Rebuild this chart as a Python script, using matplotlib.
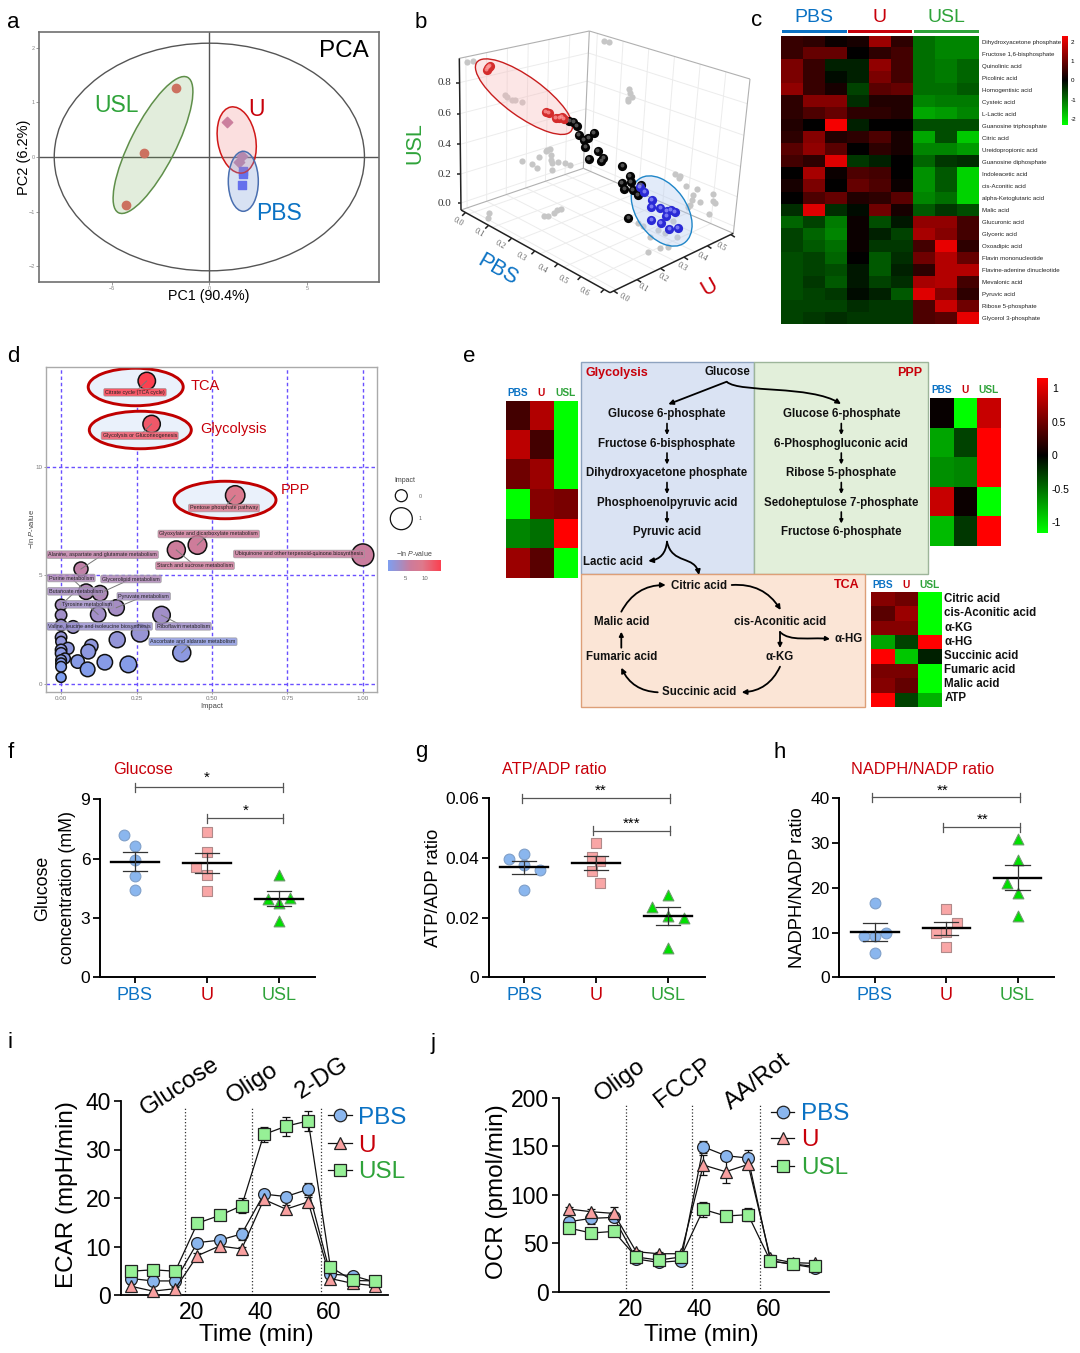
import numpy as np
import matplotlib
matplotlib.use('Agg')
import matplotlib.pyplot as plt
from matplotlib.patches import Ellipse, Rectangle, FancyArrowPatch, Circle
from matplotlib.path import Path
from matplotlib.colors import LinearSegmentedColormap
from matplotlib.transforms import ScaledTranslation

plt.rcParams['font.family'] = ['Liberation Sans', 'DejaVu Sans']
plt.rcParams['mathtext.fontset'] = 'custom'
plt.rcParams['mathtext.it'] = 'Liberation Sans:italic'
plt.rcParams['mathtext.rm'] = 'Liberation Sans'

W, H = 1080, 1353
BLUE, RED, GREEN = '#0b72c4', '#c8000a', '#2fa33a'
groups = ['PBS', 'U', 'USL']
group_colors = [BLUE, RED, GREEN]

# --- a: PCA
pca_usl_x = [-1.69, -3.34, -4.28]
pca_usl_y = [1.27, 0.08, -0.88]
pca_u_x = [0.91, 1.67, 1.54]
pca_u_y = [0.64, 0.02, -0.10]
pca_pbs_x = [1.73, 1.74, 1.67]
pca_pbs_y = [-0.26, -0.31, -0.51]

# --- b: 3D scatter, projected positions
b_red_x = [267, 263, 260, 270, 438, 447, 468, 485, 492, 478]
b_red_y = [200, 204, 210, 197, 337, 340, 353, 352, 358, 355]
b_black_x = [508, 520, 530, 537, 552, 565, 582, 556, 593, 610, 604, 566, 667, 689, 693, 666, 673, 698, 714, 685, 722]
b_black_y = [364, 367, 379, 406, 420, 415, 400, 440, 452, 475, 484, 478, 498, 527, 547, 548, 566, 570, 584, 655, 555]
b_blue_x = [720, 733, 756, 754, 781, 800, 813, 825, 799, 754, 783, 808, 833]
b_blue_y = [562, 577, 599, 622, 625, 632, 631, 635, 648, 660, 670, 687, 683]
b_gray_x = [200, 220, 612, 628, 688, 690, 695, 685, 684, 316, 322, 335, 345, 365, 440, 450, 437, 452, 418, 367, 397, 410,
            453, 455, 475, 495, 510, 457, 267, 263, 432, 443, 462, 472, 483, 825, 840, 838, 857, 890, 880, 877, 870, 865,
            900, 940, 938, 945, 927, 820, 715, 730, 775, 795, 830, 750, 780, 803, 745]
b_gray_y = [186, 183, 124, 126, 268, 278, 290, 297, 302, 286, 292, 301, 301, 305, 450, 447, 452, 465, 470, 482, 492, 505,
            480, 490, 487, 490, 494, 510, 640, 653, 647, 647, 640, 630, 628, 522, 527, 535, 558, 568, 585, 600, 615, 622,
            606, 582, 604, 610, 642, 662, 670, 678, 690, 700, 712, 710, 744, 742, 757]

# --- c: heatmap
c_metabolites = ['Dihydroxyacetone phosphate', 'Fructose 1,6-bisphosphate', 'Quinolinic acid', 'Picolinic acid',
                 'Homogentisic acid', 'Cysteic acid', 'L-Lactic acid', 'Guanosine triphosphate', 'Citric acid',
                 'Ureidopropionic acid', 'Guanosine diphosphate', 'Indoleacetic acid', 'cis-Aconitic acid',
                 'alpha-Ketoglutaric acid', 'Malic acid', 'Glucuronic acid', 'Glyceric acid', 'Oxoadipic acid',
                 'Flavin mononucleotide', 'Flavine-adenine dinucleotide', 'Mevalonic acid', 'Pyruvic acid',
                 'Ribose 5-phosphate', 'Glycerol 3-phosphate']
c_values = [
    [.5, .4, .1, .2, 1.4, .4, -1.0, -1.2, -1.2],
    [.5, .9, .9, 0, .4, .6, -1.0, -1.2, -1.2],
    [1.1, .5, -.3, -.3, 1.3, .6, -1.0, -1.1, -.9],
    [1.1, .5, -.1, -.3, 1.1, .6, -1.0, -1.1, -.9],
    [1.3, .5, .2, -.6, .8, .9, -1.0, -1.0, -.8],
    [.4, 1.2, 1.2, -.4, .3, .3, -1.2, -1.1, -1.1],
    [.4, .7, .9, .4, .4, .3, -1.5, -1.4, -1.2],
    [.3, 0, 2.2, -.3, 0, 0, -.7, -.7, -.7],
    [.4, 1.2, .3, .4, .7, .2, -1.5, -.7, -1.8],
    [.8, 1.3, .8, 0, .4, .2, -1.2, -1.2, -1.4],
    [.6, .4, 2.0, -.5, -.3, 0, -.9, -.5, -.4],
    [0, 1.5, .1, .7, .6, 0, -1.3, -.8, -1.9],
    [.2, 1.1, 0, .9, .7, .1, -1.3, -.8, -1.9],
    [0, .7, .9, .3, .4, .8, -1.2, -1.0, -1.9],
    [-.4, 2.0, -.4, -.1, 1.0, .2, -.8, -.5, -.7],
    [-.9, -.6, -1.1, .1, -.7, -.2, 1.3, 1.3, .6],
    [-.6, -.9, -1.2, .1, -.3, -.6, 1.5, 1.2, .6],
    [-.6, -.8, -1.0, .1, -.5, -.5, .6, 2.1, .4],
    [-.7, -.6, -.9, 0, -.8, -.4, 1.0, 1.6, .9],
    [-.7, -.6, -.7, -.2, -.8, -.3, .4, 1.6, 1.6],
    [-.7, -.5, -.8, -.2, -.6, -.4, 1.5, 1.6, .6],
    [-.7, -.6, -.5, -.1, -.3, -.8, 2.0, 1.2, .4],
    [-.6, -.6, -.6, -.4, -.5, -.5, .7, 1.8, 1.0],
    [-.6, -.5, -.4, -.5, -.5, -.5, .7, .8, 2.1],
]

# --- d: pathway bubbles
d_impact = [.284, .30, .577, .452, .382, 1.0, .066, .083, .129, 0, .123, .183, .333, 0, 0, .04, .262, .186, 0, 0,
            .40, .10, .09, .023, 0, 0, .013, 0, 0, .055, .145, .223, .088, 0, 0]
d_logp = [13.99, 12.0, 8.7, 6.41, 6.18, 5.95, 5.3, 4.25, 4.18, 3.64, 3.2, 3.51, 3.17, 3.17, 2.71, 2.62, 2.33, 2.03, 2.14, 1.94,
          1.43, 1.74, 1.48, 1.63, 1.56, 1.4, 1.17, 1.09, .94, 1.02, .99, .89, .66, .78, .29]
d_radius = [8.7, 8.7, 9.7, 9.3, 9, 11, 7, 7.7, 7.7, 5.7, 7.7, 8, 8.7, 5.7, 5.7, 6.3, 8.7, 8, 5.7, 5.3,
            9, 6.7, 7.3, 6, 5.7, 5.7, 5.3, 5.3, 5.3, 6.7, 7.7, 8.3, 7.3, 5.3, 5]
d_names = ['Citrate cycle (TCA cycle)', 'Glycolysis or Gluconeogenesis', 'Pentose phosphate pathway',
           'Glyoxylate and dicarboxylate metabolism', 'Starch and sucrose metabolism',
           'Ubiquinone and other terpenoid-quinone biosynthesis', 'Alanine, aspartate and glutamate metabolism',
           'Purine metabolism', 'Glycerolipid metabolism', 'Butanoate metabolism', 'Tyrosine metabolism',
           'Pyruvate metabolism', 'Riboflavin metabolism', 'Valine, leucine and isoleucine biosynthesis',
           'Ascorbate and aldarate metabolism']
d_name_bubble = [0, 1, 2, 3, 4, 5, 6, 7, 8, 9, 10, 11, 12, 15, 20]

# --- e: pathway heatmaps
e_gly_values = [[.3, .8, -1.15], [.85, .3, -1.15], [.5, .7, -1.15], [-1.15, .6, .55], [-.6, -.5, 1.15], [.7, .4, -1.15]]
e_ppp_values = [[.03, -1.15, .9], [-.75, -.3, 1.15], [-.65, -.6, 1.15], [.9, .05, -1.15], [-.85, -.25, 1.15]]
e_tca_values = [[.6, .5, -1.15], [.4, .7, -1.15], [.6, .6, -1.15], [-.75, -.3, 1.15],
                [1.15, -.9, -.15], [.55, .55, -1.15], [.6, .45, -1.15], [1.15, -.3, -.8]]
e_tca_names = ['Citric acid', 'cis-Aconitic acid', 'α-KG', 'α-HG', 'Succinic acid', 'Fumaric acid', 'Malic acid', 'ATP']
e_gly_names = ['Glucose 6-phosphate', 'Fructose 6-bisphosphate', 'Dihydroxyacetone phosphate',
               'Phosphoenolpyruvic acid', 'Pyruvic acid']
e_ppp_names = ['Glucose 6-phosphate', '6-Phosphogluconic acid', 'Ribose 5-phosphate',
               'Sedoheptulose 7-phosphate', 'Fructose 6-phosphate']

# --- f, g, h: dot plots (value, x offset)
f_vals = [[7.18, 6.63, 5.92, 5.13, 4.40], [7.37, 6.36, 5.56, 5.18, 4.38], [5.16, 3.98, 4.01, 3.74, 2.85]]
f_offs = [[-.148, 0, 0, 0, 0], [0, 0, -.148, 0, 0], [0, -.15, .15, 0, 0]]
f_mean = [5.85, 5.78, 3.98]
f_err = [.5, .5, .37]
g_vals = [[.0398, .0413, .0377, .0359, .0291], [.0451, .0402, .0389, .0356, .0316], [.0275, .0236, .0206, .0199, .0097]]
g_offs = [[-.217, 0, 0, .217, 0], [0, -.06, .06, -.06, .06], [0, -.22, 0, .22, 0]]
g_mean = [.0369, .0384, .0206]
g_err = [.0022, .0024, .0030]
h_vals = [[16.7, 9.2, 9.2, 10.0, 5.4], [15.2, 12.2, 10.0, 10.1, 6.75], [30.8, 26.3, 21.0, 18.9, 13.7]]
h_offs = [[0, -.148, 0, .148, 0], [0, .148, -.148, 0, 0], [0, 0, -.15, 0, 0]]
h_mean = [10.1, 11.0, 22.3]
h_err = [1.95, 1.45, 2.9]

# --- i, j: Seahorse traces
time_min = [3, 9.5, 16, 22.5, 29, 35.5, 42, 48.5, 55, 61.5, 68, 74.5]
ecar_pbs = [3.4, 2.9, 2.9, 10.8, 11.3, 12.6, 20.8, 20.3, 21.8, 4.3, 4.0, 2.7]
ecar_u = [1.8, .8, 1.3, 8.1, 10.1, 9.5, 19.7, 17.7, 19.2, 3.4, 2.4, 1.9]
ecar_usl = [4.9, 5.2, 4.9, 14.8, 16.4, 18.4, 33.1, 34.8, 35.9, 5.8, 3.0, 2.9]
ecar_pbs_err = [.5, .4, .4, .6, .6, 1.2, .6, 1.0, 1.2, .5, .4, .3]
ecar_u_err = [.5, .3, .4, .5, .5, .5, .5, .9, 1.0, .4, .3, .3]
ecar_usl_err = [.5, .5, .5, .6, .6, 1.5, 1.6, 2.0, 2.0, .6, .4, .3]
ocr_pbs = [72.4, 75.8, 76.8, 34, 30.5, 32.2, 149.5, 140.3, 137.9, 32, 28.5, 24.7]
ocr_u = [85.4, 82.6, 80.9, 41.5, 39.4, 39.4, 130.7, 123.8, 131.3, 34.6, 30.2, 29.5]
ocr_usl = [65.8, 60.7, 62.4, 36, 32.9, 36, 85, 78.2, 79.6, 31.9, 28.8, 26.4]
ocr_pbs_err = [5, 6, 4, 2, 2, 2, 6, 4, 8, 2, 2, 2]
ocr_u_err = [2, 3, 7, 2, 2, 2, 10, 12, 5, 3, 2, 2]
ocr_usl_err = [5, 5, 5, 2, 2, 2, 8, 5, 7, 2, 2, 2]

fig = plt.figure(figsize=(W / 100, H / 100), dpi=100, facecolor='white')


def px_axes(x0, y0, x1, y1, **kw):
    return fig.add_axes([x0 / W, 1 - y1 / H, (x1 - x0) / W, (y1 - y0) / H], **kw)


# overlay in figure pixels, used for annotations
ov = px_axes(0, 0, W, H, zorder=5)
ov.set_xlim(0, W)
ov.set_ylim(H, 0)
ov.axis('off')
ov.patch.set_alpha(0)
# background layer for the pathway boxes
bg = px_axes(0, 0, W, H, zorder=0)
bg.set_xlim(0, W)
bg.set_ylim(H, 0)
bg.axis('off')


def T(x, y, s, fs=10, color='black', **kw):
    kw.setdefault('ha', 'center')
    kw.setdefault('va', 'center')
    return ov.text(x, y, s, fontsize=fs, color=color, **kw)


for lab, lx, ly in [('a', 13, 22), ('b', 421, 22), ('c', 757, 20), ('d', 13, 357), ('e', 469, 357),
                    ('f', 11, 752), ('g', 421, 752), ('h', 780, 752), ('i', 10, 1043), ('j', 433, 1043)]:
    T(lx, ly, lab, fs=16)

# ---------- a
ax = px_axes(39, 32, 379.5, 282, zorder=1)
ax.set_xlim(-8.72, 8.71)
ax.set_ylim(-2.29, 2.29)
ax.axhline(0, color='#555555', lw=1)
ax.axvline(0, color='#555555', lw=1)
ax.add_patch(Ellipse((0, 0), 15.88, 4.17, fill=False, ec='#555555', lw=1))
ax.scatter(pca_usl_x, pca_usl_y, s=36, color='#e46464', zorder=3)
ax.scatter(pca_u_x, pca_u_y, s=28, marker='D', color='#bf7fa8', zorder=3)
ax.scatter(pca_pbs_x, pca_pbs_y, s=36, marker='s', color='#5a5cf5', zorder=3)
ax.set_xticks([-5, 0, 5])
ax.set_yticks([-2, -1, 0, 1, 2])
ax.tick_params(labelsize=4, colors='#888888', length=2, width=.6, pad=1)
for s in ax.spines.values():
    s.set_color('#707070')
    s.set_linewidth(1.2)
ov.add_patch(Ellipse((153, 145), 152, 45, angle=-63, fc='#70a850', ec='#5f8f4a', alpha=.2, lw=0))
ov.add_patch(Ellipse((153, 145), 152, 45, angle=-63, fill=False, ec='#5f8f4a', lw=1.1))
ov.add_patch(Ellipse((236.7, 140), 67, 38, angle=80, fc='#f08080', alpha=.25, lw=0))
ov.add_patch(Ellipse((236.7, 140), 67, 38, angle=80, fill=False, ec='#d01818', lw=1.1))
ov.add_patch(Ellipse((243.3, 181.3), 30, 60, fc='#7f9fd8', alpha=.3, lw=0))
ov.add_patch(Ellipse((243.3, 181.3), 30, 60, fill=False, ec='#4a6fb0', lw=1.1))
T(344, 51, 'PCA', fs=17.5)
T(116, 105, 'USL', fs=16.5, color=GREEN)
T(257, 109, 'U', fs=16.5, color=RED)
T(279, 214, 'PBS', fs=16.5, color=BLUE)
T(209, 296, 'PC1 (90.4%)', fs=10.3)
T(24, 157, 'PC2 (6.2%)', fs=10.5, rotation=90)

# ---------- b
ax = px_axes(400, 0, 755, 330, zorder=1)
ax.set_xlim(0, 1065)
ax.set_ylim(990, 0)
ax.axis('off')
L, F, R_, B = np.array([183, 630.]), np.array([630, 878.]), np.array([1000, 700.]), np.array([550, 505.])
LT, BT, RT = np.array([178, 175.]), np.array([568, 93.]), np.array([1050, 237.])


def lerp(a, b, t):
    return a + (b - a) * t


def seg(a, b, **kw):
    ax.plot([a[0], b[0]], [a[1], b[1]], solid_capstyle='butt', **kw)


grid = dict(color='#ececec', lw=.7, zorder=1)
for t in [.05, .21, .37, .53, .69, .85]:
    seg(lerp(L, F, t), lerp(B, R_, t), **grid)
for t in [.05, .21, .37, .53, .69, .85]:
    seg(lerp(L, B, t), lerp(F, R_, t), **grid)
    seg(lerp(L, B, t), lerp(LT, BT, t), **grid)
    seg(lerp(B, R_, t), lerp(BT, RT, t), **grid)
for t in [.046, .237, .433, .635, .84]:
    seg(lerp(L, LT, t), lerp(B, BT, t), **grid)
    seg(lerp(B, BT, t), lerp(R_, RT, t), **grid)
edge = dict(color='#b0b0b0', lw=.8, zorder=1.5)
seg(LT, BT, **edge)
seg(BT, RT, **edge)
seg(B, BT, **edge)
seg(RT, R_, **edge)
seg(L, B, **edge)
seg(B, R_, **edge)
dark = dict(color='#222222', lw=1.1, zorder=2)
seg(L, LT, **dark)
seg(L, F, **dark)
seg(F, R_, **dark)
for t in [.046, .237, .433, .635, .84]:
    p = lerp(L, LT, t)
    seg(p, p + np.array([-10, 0]), **dark)
for i in range(7):
    p = lerp(L, F, .03 + i * .155)
    seg(p, p + np.array([-10, 10]), **dark)
    q = lerp(np.array([175, 665.]), np.array([553, 876.]), i / 6)
    ax.text(q[0], q[1], f'0.{i}', fontsize=6, family='Liberation Serif', color='#666666', rotation=-30, ha='center', va='center')
for i in range(6):
    p = lerp(F, R_, .03 + i * .19)
    seg(p, p + np.array([12, 8]), **dark)
    q = lerp(np.array([672, 895.]), np.array([965, 740.]), i / 5)
    ax.text(q[0], q[1], f'0.{i}', fontsize=6, family='Liberation Serif', color='#666666', rotation=-30, ha='center', va='center')
for z, yy in zip(['0.0', '0.2', '0.4', '0.6', '0.8'], [612, 524, 433, 342, 248]):
    ax.text(133, yy, z, fontsize=8, family='Liberation Serif', color='#333333', ha='center', va='center')
ax.scatter(b_gray_x, b_gray_y, s=20, color='#c6c6c6', lw=0, zorder=2.5)
ax.add_patch(Ellipse((372, 290), 350, 118, angle=36, fc='#f7b8b8', alpha=.35, lw=0, zorder=3))
ax.add_patch(Ellipse((372, 290), 350, 118, angle=36, fill=False, ec='#c81e1e', lw=1, zorder=3))
ax.add_patch(Ellipse((785, 633), 235, 150, angle=55, fc='#b8cdf0', alpha=.4, lw=0, zorder=3))
ax.add_patch(Ellipse((785, 633), 235, 150, angle=55, fill=False, ec='#1f86c8', lw=1, zorder=3))
for xs, ys, base, shine in [(b_black_x, b_black_y, '#050505', '#707070'), (b_red_x, b_red_y, '#d42c2c', '#ffa0a0'),
                            (b_blue_x, b_blue_y, '#2a2ad6', '#9a9aff')]:
    ax.scatter(xs, ys, s=44, color=base, lw=0, zorder=4)
    ax.scatter(np.array(xs) - 2, np.array(ys) - 3, s=8, color=shine, alpha=.7, lw=0, zorder=4.1)
T(415, 143, 'USL', fs=15.5, color=GREEN, rotation=90)
T(498, 270, 'PBS', fs=15.5, color=BLUE, rotation=-30)
T(709, 287, 'U', fs=15.5, color=RED, rotation=30)

# ---------- c
gbr = LinearSegmentedColormap.from_list('gbr', ['#00ff00', '#000000', '#ff0000'])
ax = px_axes(781, 35.7, 979, 324.3, zorder=1)
ax.imshow(np.array(c_values), cmap=gbr, vmin=-2.3, vmax=2.3, aspect='auto', interpolation='nearest')
ax.set_xticks([])
ax.yaxis.tick_right()
ax.set_yticks(range(len(c_metabolites)), c_metabolites, fontsize=4.4, color='#222222')
ax.tick_params(length=0, pad=2)
for s in ax.spines.values():
    s.set_visible(False)
for x0, x1, col, lab in [(781.5, 846.5, BLUE, 'PBS'), (847.5, 912, RED, 'U'), (913.5, 979, GREEN, 'USL')]:
    ov.add_patch(Rectangle((x0, 29.5), x1 - x0, 3, color=col, lw=0))
    T((x0 + x1) / 2, 17, lab, fs=14, color=col)
cb = px_axes(1062.3, 35.7, 1068.3, 125, zorder=1)
cb.imshow(np.linspace(2.3, -2.3, 128)[:, None], cmap=gbr, vmin=-2.3, vmax=2.3, aspect='auto', extent=[0, 1, -2.3, 2.3])
cb.set_xticks([])
cb.yaxis.tick_right()
cb.set_yticks([2, 1, 0, -1, -2], ['2', '1', '0', '-1', '-2'], fontsize=4.5)
cb.tick_params(length=0, pad=1.5)
for s in cb.spines.values():
    s.set_visible(False)

# ---------- d
bubble_cmap = LinearSegmentedColormap.from_list('bub', [(0, '#7f9ff0'), (.25, '#a88cc0'), (.42, '#cc7c9c'),
                                                        (.65, '#de7a8c'), (1, '#fb4050')])
ax = px_axes(46, 366.7, 377.3, 692.3, zorder=1)
ax.set_xlim(-.05, 1.048)
ax.set_ylim(-.4, 14.65)
ax.set_xticks([0, .25, .5, .75, 1], ['0.00', '0.25', '0.50', '0.75', '1.00'])
ax.set_yticks([0, 5, 10])
ax.grid(True, color='#6a50ff', ls='--', lw=1, dashes=(2.5, 2))
ax.set_axisbelow(True)
ax.tick_params(labelsize=4.5, colors='#777777', length=1.5, width=.5, pad=1)
for s in ax.spines.values():
    s.set_color('#aaaaaa')
    s.set_linewidth(1)
pts_per_px = .72
sizes = (2 * np.array(d_radius) * pts_per_px) ** 2
# highlight ellipses sit under the bubbles, on the pixel coordinates of the overlay
for cx, cy, w in [(135.7, 387, 95), (140.3, 430, 102), (225, 500, 102)]:
    ax.add_patch(Ellipse((cx, cy), w, 37.5, fc='#eaf1fb', lw=0, zorder=2, transform=ov.transData))
    ax.add_patch(Ellipse((cx, cy), w, 37.5, fill=False, ec='#c00000', lw=2.1, zorder=2.5, transform=ov.transData))
ax.scatter(d_impact, d_logp, s=sizes, c=d_logp, cmap=bubble_cmap, vmin=.3, vmax=14, ec='#111111', lw=1.1, zorder=3)
# labels, placed as in the picture (figure pixels)
d_label_x = [135, 139.7, 224, 208.7, 195, 299, 102.7, 71.3, 131, 75.7, 87, 143.7, 183.3, 99.7, 193]
d_label_y = [392.3, 435.7, 508, 534, 565.7, 554, 554.7, 578, 579, 591.3, 604.3, 596.3, 626.3, 626.3, 641.7]
for name, lx, ly, k in zip(d_names, d_label_x, d_label_y, d_name_bubble):
    col = bubble_cmap((d_logp[k] - .3) / 13.7)
    bx = 61 + d_impact[k] * 301.7
    by = 683.7 - d_logp[k] * 21.64
    ov.plot([lx, bx], [ly, by], color='#777777', lw=.7, zorder=3)
    T(lx, ly, name, fs=3.9, color='#222222', zorder=4,
      bbox=dict(boxstyle='round,pad=0.25', fc=col, ec='#999999', lw=.5, alpha=.85))
T(205, 386.5, 'TCA', fs=10.5, color=RED)
T(233.5, 429, 'Glycolysis', fs=10.5, color=RED)
T(295.5, 490.5, 'PPP', fs=10.5, color=RED)
T(211.7, 706, 'Impact', fs=5.5, color='#444444')
T(31, 529, r'$-$ln $\mathit{P}$-value', fs=5.5, color='#444444', rotation=90)
T(404.7, 481, 'Impact', fs=5, color='#444444')
ov.add_patch(Circle((401.3, 495.7), 6, fill=False, ec='#111111', lw=.9))
ov.add_patch(Circle((401.3, 518.7), 11, fill=False, ec='#111111', lw=.9))
T(420, 496, '0', fs=4, color='#666666')
T(420, 519, '1', fs=4, color='#666666')
T(414, 553, r'$-$ln $\mathit{P}$-value', fs=5, color='#444444')
cb = px_axes(388, 560, 440, 571.5, zorder=1)
cb.imshow(np.linspace(.3, 14, 128)[None, :], cmap=bubble_cmap, aspect='auto', extent=[.5, 13.8, 0, 1])
cb.set_yticks([])
cb.set_xticks([5, 10])
cb.tick_params(labelsize=4.3, colors='#666666', length=0, pad=3)
for s in cb.spines.values():
    s.set_visible(False)

# ---------- e
bg.add_patch(Rectangle((581, 362.3), 173, 211.7, fc='#dae3f3', ec='#8ea3bf', lw=1))
bg.add_patch(Rectangle((754, 362.3), 173.7, 211.7, fc='#e2efda', ec='#9db59a', lw=1))
bg.add_patch(Rectangle((581, 574), 284, 132.7, fc='#fbe5d6', ec='#dd9f78', lw=1))
E = dict(fs=8.3, fontweight='bold', color='#111111')
T(617, 372.7, 'Glycolysis', fs=9, color=RED, fontweight='bold')
T(909.7, 372.7, 'PPP', fs=9, color=RED, fontweight='bold')
T(846.7, 585, 'TCA', fs=9, color=RED, fontweight='bold')
T(727.3, 371.7, 'Glucose', **E)
for name, yy in zip(e_gly_names, [414, 443.7, 473.3, 502.7, 532]):
    T(667, yy, name, **E)
for name, yy in zip(e_ppp_names, [414, 443.7, 473.3, 502.7, 532]):
    T(841.3, yy, name, **E)
T(613, 561.7, 'Lactic acid', **E)
T(699, 586, 'Citric acid', **E)
T(621.3, 621.7, 'Malic acid', **E)
T(780, 621.7, 'cis-Aconitic acid', **E)
T(621.3, 657, 'Fumaric acid', **E)
T(779.7, 657, 'α-KG', **E)
T(848.7, 639.3, 'α-HG', **E)
T(699, 692.3, 'Succinic acid', **E)


def arrow(a, b, rad=0.0, ms=7, lw=1.3):
    ov.add_patch(FancyArrowPatch(a, b, arrowstyle='-|>', mutation_scale=ms, lw=lw, color='black', shrinkA=0, shrinkB=0,
                                 connectionstyle=f'arc3,rad={rad}'))


def curve(p0, c1, c2, p3, ms=7, lw=1.3):
    ov.add_patch(FancyArrowPatch(path=Path([p0, c1, c2, p3], [Path.MOVETO, Path.CURVE4, Path.CURVE4, Path.CURVE4]),
                                 arrowstyle='-|>', mutation_scale=ms, lw=lw, color='black', shrinkA=0, shrinkB=0))


for xx in (667, 841.3):
    for yy in (423.5, 453, 482.5, 512):
        arrow((xx, yy), (xx, yy + 11.5), ms=5, lw=1.2)
arrow((726.7, 381.7), (668.3, 404.3))
curve((727, 382), (740, 393), (810, 385), (841, 404))
arrow((667, 541.7), (648.3, 561), rad=-.4)
curve((667, 541.7), (672, 565), (695, 555), (699, 575))
arrow((621.3, 611.7), (665.7, 585), rad=-.3)
arrow((731.7, 585), (780.7, 610), rad=-.3)
arrow((780, 632), (780, 648), ms=6)
curve((780, 632), (790, 642), (810, 637), (830, 639), ms=6)
arrow((780, 666.7), (741.7, 692.3), rad=-.3)
arrow((657.7, 692.3), (621.3, 667.7), rad=-.3)
arrow((621.3, 647.7), (621.3, 631.7), ms=6)


def mini_heat(x0, y0, x1, y1, vals, head_y, head_fs=7.3):
    a = px_axes(x0, y0, x1, y1, zorder=1)
    a.imshow(np.array(vals), cmap=gbr, vmin=-1.158, vmax=1.158, aspect='auto', interpolation='nearest')
    a.axis('off')
    cw = (x1 - x0) / 3
    for i, (g, c) in enumerate(zip(groups, group_colors)):
        T(x0 + cw * (i + .5), head_y, g, fs=head_fs, color=c, fontweight='bold')


mini_heat(505.7, 400.7, 577.3, 577.7, e_gly_values, 393.3)
mini_heat(930, 398.3, 1000.7, 546.3, e_ppp_values, 390)
mini_heat(870.7, 592.3, 941.7, 706.7, e_tca_values, 585)
for name, yy in zip(e_tca_names, [599, 613.3, 627.7, 641.7, 656, 670, 684.3, 698.3]):
    T(944.3, yy, name, ha='left', **E)
cb = px_axes(1037.3, 377.7, 1047.7, 532.7, zorder=1)
cb.imshow(np.linspace(1.158, -1.158, 128)[:, None], cmap=gbr, vmin=-1.158, vmax=1.158, aspect='auto',
          extent=[0, 1, -1.158, 1.158])
cb.set_xticks([])
cb.yaxis.tick_right()
cb.set_yticks([1, .5, 0, -.5, -1], ['1', '0.5', '0', '-0.5', '-1'], fontsize=7.5)
cb.tick_params(length=0, pad=3)
for s in cb.spines.values():
    s.set_visible(False)


# ---------- f g h
def dot_panel(x0, x1, cats, ymax, yticks, yticklabels, vals, offs, means, errs, title, title_x,
              brackets, ylabel_x, ylabel, ylabel_fs):
    span = cats[1] - cats[0]
    a = px_axes(x0, 798.3 if ymax != 9 else 799.3, x1, 977.3, zorder=1)
    a.set_xlim(1 - (cats[0] - x0) / span, 1 + (x1 - cats[0]) / span)
    a.set_ylim(0, ymax)
    styles = [('o', '#8ab6ee', '#7f9fc8'), ('s', '#f9a6a6', '#b08a8a'), ('^', '#00e000', '#6a9a6a')]
    for i in range(3):
        xs = 1 + i + np.array(offs[i])
        m, fc, ec = styles[i]
        a.scatter(xs, vals[i], s=60, marker=m, fc=fc, ec=ec, lw=.8, zorder=2, clip_on=False)
        a.plot([1 + i - .33, 1 + i + .33], [means[i], means[i]], color='black', lw=1.7, zorder=3)
        a.plot([1 + i, 1 + i], [means[i] - errs[i], means[i] + errs[i]], color='#333333', lw=.9, zorder=3)
        for sgn in (-1, 1):
            a.plot([1 + i - .17, 1 + i + .17], [means[i] + sgn * errs[i]] * 2, color='#333333', lw=.9, zorder=3)
    a.set_xticks([1, 2, 3], groups)
    for lb, c in zip(a.get_xticklabels(), group_colors):
        lb.set_color(c)
    a.set_yticks(yticks, yticklabels)
    a.tick_params(axis='x', labelsize=13, width=1.3, length=4, pad=3)
    a.tick_params(axis='y', labelsize=12.5, width=1.3, length=5, pad=2)
    for s in ('top', 'right'):
        a.spines[s].set_visible(False)
    for s in ('left', 'bottom'):
        a.spines[s].set_linewidth(1.4)
    T(title_x, 769.3, title, fs=11.7, color=RED)
    for bx0, bx1, by, stars, sx, sy in brackets:
        ov.plot([bx0, bx1], [by, by], color='#555555', lw=.9)
        ov.plot([bx0, bx0], [by - 4.5, by + 4.5], color='#555555', lw=.9)
        ov.plot([bx1, bx1], [by - 4.5, by + 4.5], color='#555555', lw=.9)
        T(sx, sy + 2, stars, fs=11)
    for xx, txt in zip(ylabel_x, ylabel):
        T(xx, 888, txt, fs=ylabel_fs, rotation=90)


dot_panel(100, 315, [135, 207, 279.3], 9, [0, 3, 6, 9], ['0', '3', '6', '9'], f_vals, f_offs, f_mean, f_err,
          'Glucose', 142.7, [(134.5, 283.3, 787.3, '*', 206.3, 776), (206.7, 283.3, 818.3, '*', 245.7, 808.5)],
          [43, 68], ['Glucose', 'concentration (mM)'], 12.8)
dot_panel(488.7, 705, [524.2, 596.1, 668], .06, [0, .02, .04, .06], ['0', '0.02', '0.04', '0.06'], g_vals, g_offs, g_mean, g_err,
          'ATP/ADP ratio', 554, [(521.6, 670, 798.3, '**', 600.4, 789), (593, 670, 830.7, '***', 631.6, 821.7)],
          [433], ['ATP/ADP ratio'], 13.3)
dot_panel(839.4, 1053.7, [875, 946.3, 1017.7], 40, [0, 10, 20, 30, 40], ['0', '10', '20', '30', '40'], h_vals, h_offs, h_mean, h_err,
          'NADPH/NADP ratio', 922.5, [(871.5, 1019.5, 797.3, '**', 943, 789), (943.3, 1019.5, 827, '**', 982.3, 817.3)],
          [797], ['NADPH/NADP ratio'], 13.2)


# ---------- i j
def trace_panel(x0, x1, y0, y1, ymax, yticks, series, errs, vlines, ylabel, ylabel_x, ylabel_y, time_xy, drugs, legend):
    a = px_axes(x0, y0, x1, y1, zorder=1)
    a.set_xlim(0, 78.5)
    a.set_ylim(0, ymax)
    styles = [('o', '#8ab6ee'), ('^', '#f9a0a0'), ('s', '#96f096')]
    for ser, er, (m, fc) in zip(series, errs, styles):
        a.errorbar(time_min, ser, yerr=er, color='#111111', lw=.9, marker=m, ms=8.5, mfc=fc, mec='#222222', mew=.9,
                   capsize=3, capthick=.9, elinewidth=.9, clip_on=False, zorder=3)
    for v in vlines:
        a.axvline(v, ymax=.97, color='#333333', ls=':', lw=.9, zorder=1)
    a.set_xticks([20, 40, 60], ['20', '40', '60'])
    a.set_yticks(yticks)
    a.tick_params(axis='x', labelsize=16.5, length=0, pad=4)
    a.tick_params(axis='y', labelsize=16.5, width=1.2, length=5, pad=2)
    # the labels sit a little right of their values in the picture
    shift = ScaledTranslation(3 / 100, 0, fig.dpi_scale_trans)
    for lb in a.get_xticklabels():
        lb.set_transform(lb.get_transform() + shift)
    for s in ('top', 'right'):
        a.spines[s].set_visible(False)
    for s in ('left', 'bottom'):
        a.spines[s].set_linewidth(1.3)
    T(ylabel_x, ylabel_y, ylabel, fs=17.5, rotation=90)
    T(time_xy[0], time_xy[1], 'Time (min)', fs=17.5)
    for name, dx, dy, rot in drugs:
        T(dx, dy, name, fs=17.5, rotation=rot)
    lx0, lx1, tx, ys = legend
    for g, c, yy, (m, fc) in zip(groups, group_colors, ys, styles):
        ov.plot([lx0, lx1], [yy, yy], color='#111111', lw=.9, marker=None)
        ov.plot([(lx0 + lx1) / 2], [yy], marker=m, ms=9, mfc=fc, mec='#222222', mew=.9, lw=0)
        T(tx, yy + 2.5, g, fs=17.5, color=c, ha='left')


trace_panel(120.7, 388.3, 1101, 1295, 40, [0, 10, 20, 30, 40], [ecar_pbs, ecar_u, ecar_usl],
            [ecar_pbs_err, ecar_u_err, ecar_usl_err], [19, 38.6, 58.7], 'ECAR (mpH/min)', 66.7, 1195, (256, 1335),
            [('Glucose', 180, 1087, 33), ('Oligo', 253, 1083, 33), ('2-DG', 322, 1078, 33)],
            (328, 352, 358, [1115, 1143, 1170]))
trace_panel(558.7, 829, 1097.7, 1292, 200, [0, 50, 100, 150, 200], [ocr_pbs, ocr_u, ocr_usl],
            [ocr_pbs_err, ocr_u_err, ocr_usl_err], [19.4, 38.6, 58.5], 'OCR (pmol/min)', 496.7, 1192, (701, 1335),
            [('Oligo', 620, 1080, 36), ('FCCP', 683, 1083, 38), ('AA/Rot', 757, 1082, 38)],
            (771, 794, 801, [1112, 1138, 1166]))

fig.savefig('out.png', dpi=100)
